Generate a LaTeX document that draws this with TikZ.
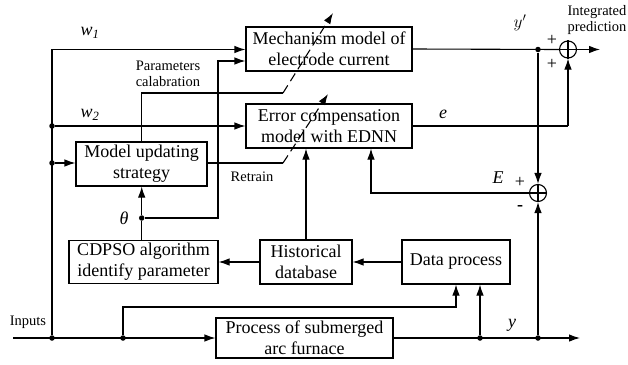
\documentclass[tikz,border=0pt]{standalone}
\usepackage{fontspec}
\setmainfont{Liberation Serif}
\usetikzlibrary{arrows.meta}
\begin{document}
\begin{tikzpicture}[x=1pt,y=-1pt, line width=1.1pt,
  >={Latex[length=11pt,width=7.5pt]},
  box/.style={draw, align=center, inner sep=0pt, font=\fontsize{18}{21}\selectfont},
  lbl/.style={font=\fontsize{14.5}{15.5}\selectfont, inner sep=0pt, align=center},
  big/.style={font=\fontsize{18}{21}\selectfont, inner sep=0pt},
  dot/.style={circle, fill, inner sep=0pt, minimum size=5.5pt},
  sum/.style={circle, draw, inner sep=0pt, minimum size=17pt}]
\useasboundingbox (0,0) rectangle (628,364);
% boxes
\node[box, minimum width=166pt, minimum height=44pt] (mech) at (329,49) {Mechanism model of\\electrode current};
\node[box, minimum width=166pt, minimum height=44pt] (err) at (329,126) {Error compensation\\model with EDNN};
\node[box, minimum width=131pt, minimum height=44pt] (upd) at (141.5,164) {Model updating\\strategy};
\node[box, minimum width=149pt, minimum height=43pt] (cdpso) at (143.5,262) {CDPSO algorithm\\identify parameter};
\node[box, minimum width=92pt, minimum height=44pt] (hist) at (306,262) {Historical\\database};
\node[box, minimum width=108pt, minimum height=44pt] (data) at (456,262) {Data process};
\node[box, minimum width=177pt, minimum height=40pt] (proc) at (304.5,338) {Process of submerged\\arc furnace};
% sums
\node[sum] (s1) at (568,49.5) {};
\node[sum] (s2) at (538,193) {};
\draw (s1.north) -- (s1.south) (s1.west) -- (s1.east);
\draw (s2.north) -- (s2.south) (s2.west) -- (s2.east);
% coordinates and dots
\coordinate (in) at (13,338);
\node[dot] (j1) at (52,338) {};
\node[dot] (j2) at (123,338) {};
\node[dot] (jw2) at (52,126) {};
\node[dot] (jup) at (52,163) {};
\coordinate (tl) at (52,49.5);
\node[dot] (th) at (141.7,218) {};
\coordinate (thc) at (218,218);
\coordinate (th2) at (218,61);
\coordinate (pc) at (283,93);
\coordinate (pce) at (333,13);
\coordinate (rt) at (283,163);
\coordinate (rte) at (328,94);
\node[dot] (jy1) at (480,338) {};
\node[dot] (jy2) at (538,338) {};
\coordinate (out) at (580,338);
\coordinate (dp) at (123,307);
\coordinate (dp2) at (456,307);
\coordinate (ec) at (371,193);
\node[dot] (jyp) at (538,49.5) {};
\coordinate (ee) at (568,126);
\coordinate (pred) at (600,49.5);
% connectors
\draw[->] (in) -- (proc.west);
\draw[->] (j1) -- (tl) -- (tl -| mech.west);
\draw[->] (jw2) -- (jw2 -| err.west);
\draw[->] (jup) -- (jup -| upd.west);
\draw (upd.north -| th) |- (pc);
\draw[dashed, dash pattern=on 9pt off 5pt, ->] (pc) -- (pce);
\draw (upd.east |- rt) -- (rt);
\draw[dashed, dash pattern=on 9pt off 5pt, ->] (rt) -- (rte);
\draw[->] (cdpso.north -| th) -- (th) -- (upd.south -| th);
\draw[->] (th) -- (thc) -- (th2) -- (th2 -| mech.west);
\draw[->] (hist.north) -- (hist.north |- err.south);
\draw[->] (data.west) -- (hist.east);
\draw[->] (hist.west) -- (cdpso.east);
\draw[->] (proc.east) -- (out);
\draw[->] (jy1) -- (jy1 |- data.south);
\draw[->] (j2) -- (dp) -- (dp2) -- (dp2 |- data.south);
\draw[->] (jy2) -- (s2.south);
\draw[->] (s2.west) -- (ec) -- (ec |- err.south);
\draw (mech.east) -- (s1.west);
\draw[->] (jyp) -- (s2.north);
\draw (err.east) -- (ee);
\draw[->] (ee) -- (s1.south);
\draw[->] (s1.east) -- (pred);
% labels
\node[big] (lw1) at (90,33) {\itshape w\textsubscript{1}};
\node[big] (lw2) at (90,115) {\itshape w\textsubscript{2}};
\node[lbl] (lpc) at (168,74) {Parameters\\calabration};
\node[lbl] (lrt) at (252,177) {Retrain};
\node[big] (lth) at (124,218) {\itshape θ};
\node[big] (lyp) at (520,23) {$y'$};
\node[big] (lpl1) at (552,40) {+};
\node[big] (lpl2) at (552,64) {+};
\node[lbl] (lint) at (597,20) {Integrated\\prediction};
\node[big] (le) at (443,114) {\itshape e};
\node[big] (lE) at (498,178) {\itshape E};
\node[big] (lpl3) at (520,182) {+};
\node[big] (lmin) at (520,208) {\textbf{-}};
\node[big] (ly) at (512,325) {\itshape y};
\node[lbl] (lin) at (28,322) {Inputs};
\end{tikzpicture}
\end{document}
